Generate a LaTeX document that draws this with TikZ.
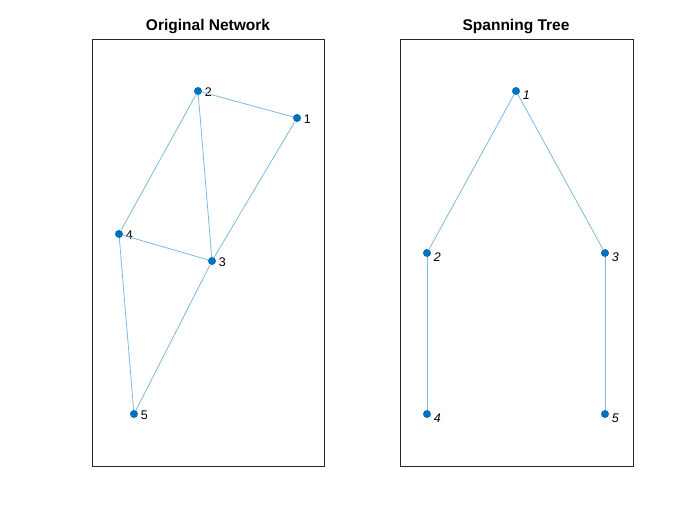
\documentclass[tikz,border=0pt]{standalone}
\usepackage{fontspec}
\setmainfont{Liberation Sans}
\usepackage{xcolor}
\definecolor{nodeblue}{RGB}{0,114,189}
\definecolor{edgeblue}{RGB}{128,185,222}
\definecolor{axisgray}{RGB}{38,38,38}

\begin{document}
\begin{tikzpicture}[x=1pt,y=-1pt]
        \tikzset{every node/.append style={inner sep=0pt}}
        \tikzset{vert/.style={circle,fill=nodeblue,minimum size=8pt}}
        \tikzset{edge/.style={edgeblue,line width=0.8pt}}
        \tikzset{lbl/.style={font=\fontsize{12.5}{12.5}\selectfont,text=black}}
        \tikzset{ilbl/.style={font=\fontsize{12.5}{12.5}\selectfont\itshape,text=black}}
        \tikzset{axbox/.style={draw=axisgray,line width=0.8pt}}
        \tikzset{ttl/.style={font=\fontsize{15.5}{15.5}\selectfont\bfseries,text=black}}
        \useasboundingbox (0,0) rectangle (700,525);
        % original network
        \draw [axbox] (92,39) rectangle (324,466);
        \node [ttl] (ttlA) at (208,27) {Original Network};
        \node [vert,label={[lbl,anchor=west,xshift=2.5pt,yshift=-1pt]right:1}] (a1) at (297,118) {};
        \node [vert,label={[lbl,anchor=west,xshift=2.5pt,yshift=-1pt]right:2}] (a2) at (198,91) {};
        \node [vert,label={[lbl,anchor=west,xshift=2.5pt,yshift=-1pt]right:3}] (a3) at (212,261) {};
        \node [vert,label={[lbl,anchor=west,xshift=2.5pt,yshift=-1pt]right:4}] (a4) at (119,234) {};
        \node [vert,label={[lbl,anchor=west,xshift=2.5pt,yshift=-1pt]right:5}] (a5) at (134,414) {};
        \draw [edge] (a2) -- (a1);
        \draw [edge] (a2) -- (a4);
        \draw [edge] (a2) -- (a3);
        \draw [edge] (a1) -- (a3);
        \draw [edge] (a4) -- (a3);
        \draw [edge] (a4) -- (a5);
        \draw [edge] (a3) -- (a5);
        % spanning tree
        \draw [axbox] (400,39) rectangle (633,466);
        \node [ttl] (ttlB) at (516,27) {Spanning Tree};
        \node [vert,label={[ilbl,anchor=west,xshift=2.5pt,yshift=-4pt]right:1}] (b1) at (516,91) {};
        \node [vert,label={[ilbl,anchor=west,xshift=2.5pt,yshift=-4pt]right:2}] (b2) at (427,253) {};
        \node [vert,label={[ilbl,anchor=west,xshift=2.5pt,yshift=-4pt]right:3}] (b3) at (605,253) {};
        \node [vert,label={[ilbl,anchor=west,xshift=2.5pt,yshift=-4pt]right:4}] (b4) at (427,414) {};
        \node [vert,label={[ilbl,anchor=west,xshift=2.5pt,yshift=-4pt]right:5}] (b5) at (605,414) {};
        \draw [edge] (b1) -- (b2);
        \draw [edge] (b1) -- (b3);
        \draw [edge] (b2) -- (b4);
        \draw [edge] (b3) -- (b5);
\end{tikzpicture}
\end{document}
